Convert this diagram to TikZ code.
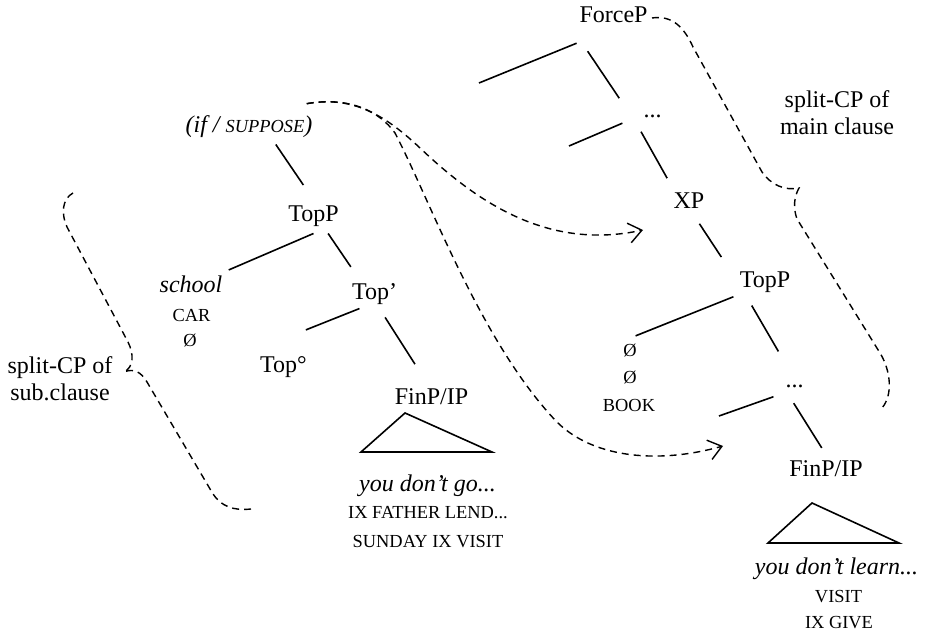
\documentclass[tikz,border=0pt]{standalone}
\usepackage{fontspec}
\setmainfont{Liberation Serif}
\usetikzlibrary{arrows.meta}

\newcommand{\glosssize}{\fontsize{9.2}{11}\selectfont}

\begin{document}
\begin{tikzpicture}[x=0.5pt,y=-0.5pt,
    every node/.style={font=\fontsize{12}{13.5}\selectfont, inner sep=3pt},
    sign/.style={font=\glosssize},
    branch/.style={line width=0.8pt},
    brace/.style={line width=0.7pt, dash pattern=on 3.5pt off 2.5pt},
    move/.style={brace, -{Straight Barb[length=6.5pt,width=10pt]}}]
  \useasboundingbox (0,0) rectangle (927,635);

  % subordinate clause
  \begin{scope}
    \node[anchor=base] (ifsup) at (249,133) {\itshape (if / {\glosssize SUPPOSE})};
    \node[anchor=base] (topP1) at (313.5,222) {TopP};
    \node[anchor=base] (school) at (191,293) {\itshape school};
    \node[anchor=base, sign] (car) at (191.5,322) {CAR};
    \node[anchor=base, sign] (nullL) at (190,347) {Ø};
    \node[anchor=base] (topbar) at (374.5,300) {Top’};
    \node[anchor=base] (topdeg) at (283.5,373) {Top°};
    \node[anchor=base] (finP1) at (431.5,405) {FinP/IP};
    \node[anchor=base] (go) at (427.5,492) {\itshape you don’t go...};
    \node[anchor=base, sign] (lend) at (428,519) {IX FATHER LEND...};
    \node[anchor=base, sign] (visitA) at (428,547.5) {SUNDAY IX VISIT};

    \draw[branch, shorten >=9pt] (ifsup.-33) -- (topP1.north);
    \draw[branch] (topP1.south) -- (school.north east);
    \draw[branch, shorten >=6.5pt] (topP1.-49) -- (topbar.134);
    \draw[branch, shorten <=-4pt, shorten >=28pt] (topbar.-143) -- (topdeg.north west);
    \draw[branch, shorten <=3.5pt, shorten >=11pt] (topbar.-68) -- (finP1.108);
    \draw[branch] (405,413) -- (361,452) -- (492,452) -- cycle;

    \draw[brace] (73,193) .. controls (62,199) and (61,214) .. (67,227) -- (128,342)
      .. controls (134,354) and (134,367) .. (124,372)
      .. controls (134,368) and (141,372) .. (147,382) -- (213,494)
      .. controls (221,506) and (233,511) .. (251,509);
    \node[anchor=base, align=center] (subLbl) at (60,401) {split-CP of\\sub.clause};
  \end{scope}

  % main clause
  \begin{scope}
    \node[anchor=base] (forceP) at (613.5,23) {ForceP};
    \node[anchor=base] (dotsA) at (652.5,118) {...};
    \node[anchor=base] (xp) at (689,209) {XP};
    \node[anchor=base] (topP2) at (765,288) {TopP};
    \node[anchor=base, sign] (nullA) at (630,357) {Ø};
    \node[anchor=base, sign] (nullB) at (630,383.5) {Ø};
    \node[anchor=base, sign] (book) at (629,412) {BOOK};
    \node[anchor=base] (dotsB) at (794.5,388) {...};
    \node[anchor=base] (finP2) at (826,477) {FinP/IP};
    \node[anchor=base] (learn) at (836.5,575) {\itshape you don’t learn...};
    \node[anchor=base, sign] (visitB) at (838.5,603) {VISIT};
    \node[anchor=base, sign] (give) at (839,629) {IX GIVE};

    \coordinate (forceSpec) at (479,83);
    \coordinate (dotsSpec) at (569,146);
    \coordinate (finSpec) at (719,416);

    \draw[branch, shorten <=18pt] (forceP.-104) -- (forceSpec);
    \draw[branch, shorten <=13pt, shorten >=16pt] (forceP.south west) -- (dotsA.south west);
    \draw[branch, shorten <=8pt] (dotsA.west) -- (dotsSpec);
    \draw[branch, shorten <=4pt, shorten >=5pt] (dotsA.south west) -- (xp.140);
    \draw[branch, shorten <=5pt, shorten >=11pt] (xp.-71) -- (topP2.167);
    \draw[branch, shorten >=3pt] (topP2.-156) -- (nullA.north);
    \draw[branch, shorten <=3.5pt, shorten >=16pt] (topP2.-135) -- (dotsB.north);
    \draw[branch, shorten <=3pt] (dotsB.south west) -- (finSpec);
    \draw[branch, shorten <=5pt, shorten >=4pt] (dotsB.-128) -- (finP2.north);
    \draw[branch] (812,503) -- (768,543) -- (899,543) -- cycle;

    \draw[brace] (652,18) .. controls (672,15) and (684,27) .. (693,47) -- (762,172)
      .. controls (771,185) and (785,191) .. (799,188)
      .. controls (794,197) and (793,208) .. (797,219) -- (880,353)
      .. controls (891,371) and (893,395) .. (882,408);
    \node[anchor=base, align=center] (mainLbl) at (837,135) {split-CP of\\main clause};
  \end{scope}

  % movement of (if / SUPPOSE)
  \coordinate (xpLanding) at (643,230);
  \coordinate (finLanding) at (723,446);
  \draw[move] ([xshift=-6pt,yshift=3pt]ifsup.north east) .. controls (350,96) and (382,112) .. (420,148)
    .. controls (480,205) and (550,250) .. (xpLanding);
  \draw[move] ([xshift=-6pt,yshift=3pt]ifsup.north east) .. controls (350,96) and (380,112) .. (395,133)
    .. controls (430,200) and (480,340) .. (555,420)
    .. controls (590,457) and (655,465) .. (finLanding);
\end{tikzpicture}
\end{document}
